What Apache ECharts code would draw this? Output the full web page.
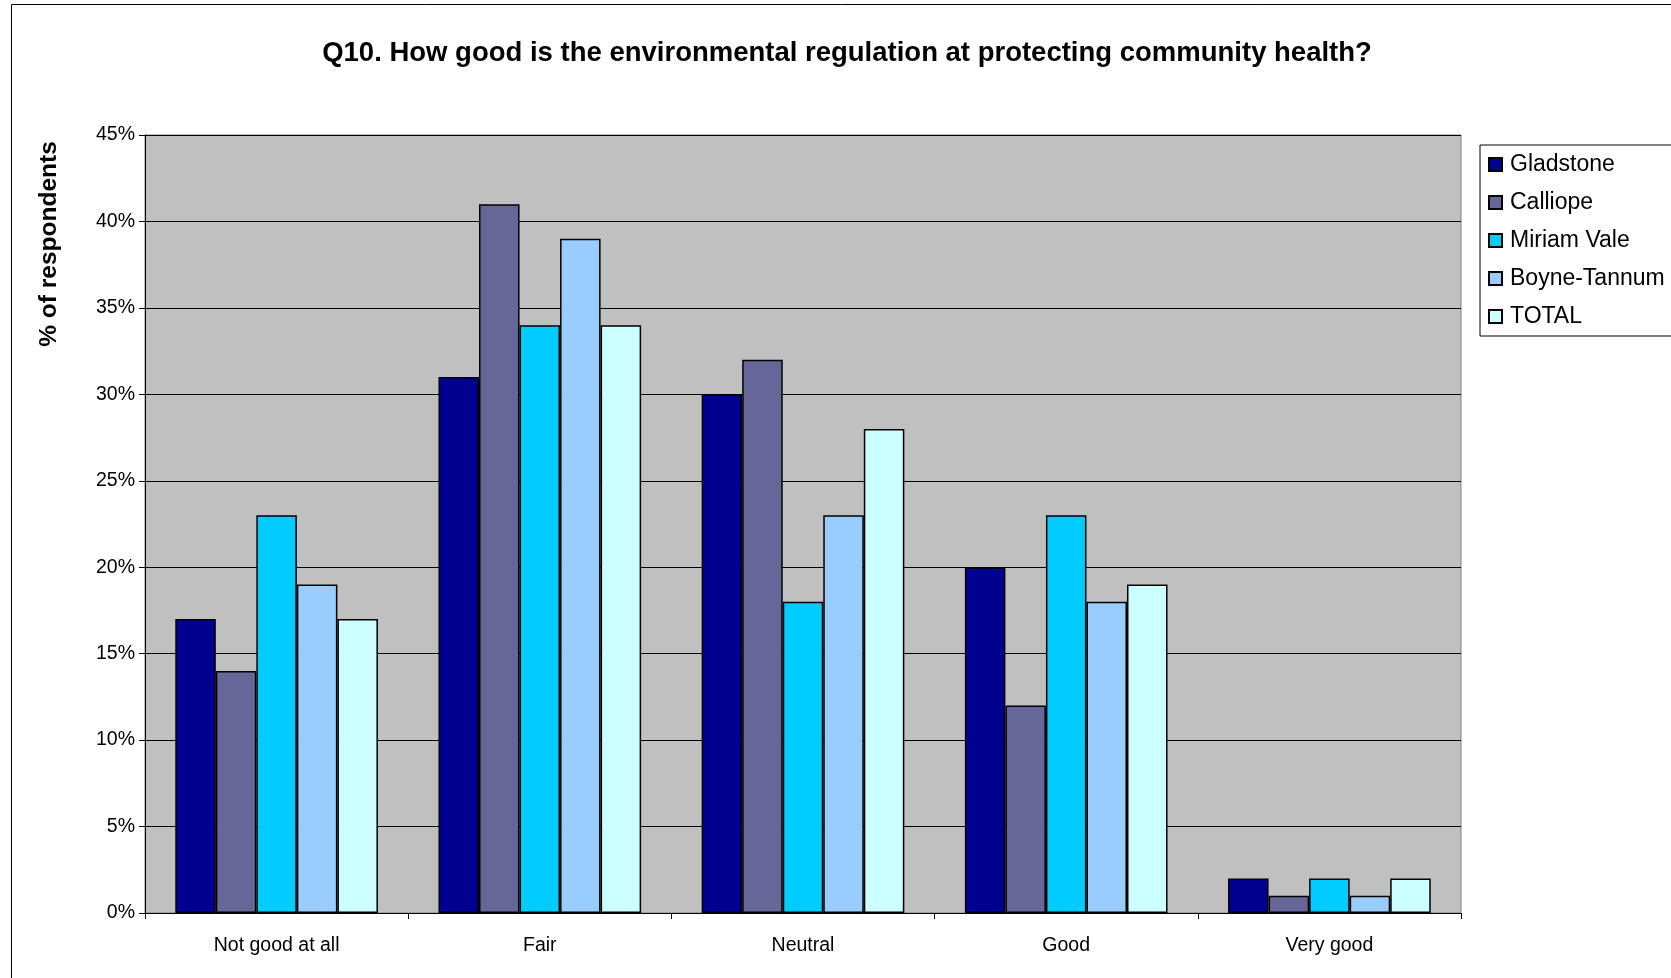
<!DOCTYPE html>
<html>
<head>
<meta charset="utf-8">
<script src="https://cdn.jsdelivr.net/npm/echarts@6/dist/echarts.min.js"></script>
<style>
html,body{margin:0;padding:0;background:#fff;}
#c{width:1671px;height:978px;}
</style>
</head>
<body>
<div id="c"></div>
<script>
const categories = ['Not good at all', 'Fair', 'Neutral', 'Good', 'Very good'];
const seriesNames = ['Gladstone', 'Calliope', 'Miriam Vale', 'Boyne-Tannum', 'TOTAL'];
const gladstone = [17, 31, 30, 20, 2];
const calliope = [14, 41, 32, 12, 1];
const miriamVale = [23, 34, 18, 23, 2];
const boyneTannum = [19, 39, 23, 18, 1];
const total = [17, 34, 28, 19, 2];
const yTicks = [0, 5, 10, 15, 20, 25, 30, 35, 40, 45];
const colors = ['#000090', '#666699', '#00CCFF', '#99CCFF', '#CCFFFF'];
const values = [gladstone, calliope, miriamVale, boyneTannum, total];

const FONT = '"Liberation Sans", Arial, sans-serif';
const chart = echarts.init(document.getElementById('c'), null, {renderer: 'canvas'});
chart.setOption({
  animation: false,
  backgroundColor: '#ffffff',
  textStyle: {fontFamily: FONT},
  title: {
    text: 'Q10. How good is the environmental regulation at protecting community health?',
    left: 842, top: 34, textAlign: 'center',
    textStyle: {fontFamily: FONT, fontWeight: 'bold', fontSize: 27.5, color: '#000'}
  },
  graphic: [
    {type: 'rect', shape: {x: 11.5, y: 4.5, width: 1700, height: 1000}, style: {fill: 'none', stroke: '#000', lineWidth: 1}, z: 100, silent: true},
    {type: 'text', x: 49, y: 244, rotation: Math.PI / 2, style: {text: '% of respondents', font: 'bold 24.5px ' + FONT, fill: '#000', align: 'center', verticalAlign: 'middle'}}
  ],
  legend: {
    orient: 'vertical',
    left: 1480, top: 145,
    data: seriesNames,
    icon: 'rect',
    itemWidth: 13, itemHeight: 13,
    itemGap: 15,
    padding: [8, 30, 8, 8],
    backgroundColor: '#ffffff',
    borderColor: '#000',
    borderWidth: 1,
    textStyle: {fontFamily: FONT, fontSize: 23, color: '#000', padding: [0, 0, 0, 3]}
  },
  grid: {
    left: 145, top: 135, width: 1316, height: 778,
    show: true, backgroundColor: '#C0C0C0', borderColor: '#808080', borderWidth: 1
  },
  xAxis: {
    type: 'category',
    data: categories,
    axisLine: {lineStyle: {color: '#000', width: 1}},
    axisTick: {show: true, alignWithLabel: false, length: 6, lineStyle: {color: '#000'}},
    axisLabel: {fontFamily: FONT, fontSize: 19.5, color: '#000', margin: 23}
  },
  yAxis: {
    type: 'value',
    min: yTicks[0], max: yTicks[yTicks.length - 1], interval: 5,
    axisLine: {show: true, lineStyle: {color: '#000', width: 1}},
    axisTick: {show: true, length: 6, lineStyle: {color: '#000'}},
    splitLine: {show: true, lineStyle: {color: '#000', width: 1}},
    axisLabel: {fontFamily: FONT, fontSize: 19.5, color: '#000', margin: 10, formatter: '{value}%'}
  },
  series: seriesNames.map((n, i) => ({
    name: n,
    type: 'bar',
    data: values[i],
    barGap: '0%',
    barCategoryGap: '23%',
    itemStyle: {color: colors[i], borderColor: '#000', borderWidth: 1.5}
  }))
});
</script>
</body>
</html>
